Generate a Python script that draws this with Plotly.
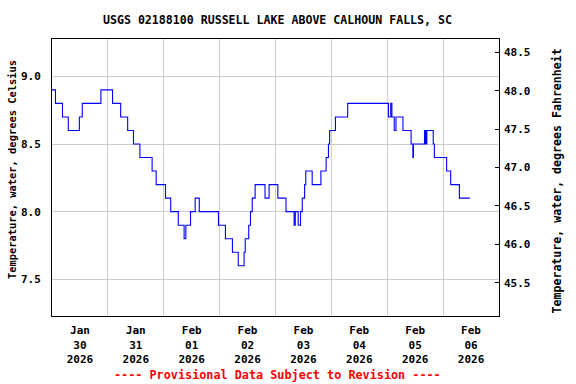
import plotly.graph_objects as go

# Change points of the 15-minute water temperature record (step series)
times = [
    "2026-01-30 00:00", "2026-01-30 01:30", "2026-01-30 04:30", "2026-01-30 07:00",
    "2026-01-30 11:45", "2026-01-30 13:00", "2026-01-30 21:00",
    "2026-01-31 02:00", "2026-01-31 05:30", "2026-01-31 08:30", "2026-01-31 11:00",
    "2026-01-31 13:45", "2026-01-31 19:00", "2026-01-31 20:45",
    "2026-02-01 00:45", "2026-02-01 03:00", "2026-02-01 06:15", "2026-02-01 08:45",
    "2026-02-01 09:30", "2026-02-01 11:30", "2026-02-01 13:30", "2026-02-01 15:15",
    "2026-02-01 23:30",
    "2026-02-02 02:30", "2026-02-02 05:30", "2026-02-02 08:00", "2026-02-02 10:30",
    "2026-02-02 11:00", "2026-02-02 12:30", "2026-02-02 13:15", "2026-02-02 14:00",
    "2026-02-02 15:15", "2026-02-02 19:30", "2026-02-02 21:15",
    "2026-02-03 01:00", "2026-02-03 04:30", "2026-02-03 08:00", "2026-02-03 08:30",
    "2026-02-03 09:45", "2026-02-03 10:45", "2026-02-03 11:30", "2026-02-03 12:30",
    "2026-02-03 13:00", "2026-02-03 15:45", "2026-02-03 19:30", "2026-02-03 21:45",
    "2026-02-03 22:45", "2026-02-03 23:15",
    "2026-02-04 01:45", "2026-02-04 07:00",
    "2026-02-05 00:30", "2026-02-05 01:30", "2026-02-05 02:00", "2026-02-05 03:00",
    "2026-02-05 03:45", "2026-02-05 06:45", "2026-02-05 10:15", "2026-02-05 11:00",
    "2026-02-05 11:15", "2026-02-05 16:00", "2026-02-05 16:15", "2026-02-05 16:30",
    "2026-02-05 16:45", "2026-02-05 17:00", "2026-02-05 19:45", "2026-02-05 20:15",
    "2026-02-06 01:30", "2026-02-06 03:15", "2026-02-06 07:00", "2026-02-06 11:30",
]
temps_c = [
    8.9, 8.8, 8.7, 8.6,
    8.7, 8.8, 8.9,
    8.8, 8.7, 8.6, 8.5,
    8.4, 8.3, 8.2,
    8.1, 8.0, 7.9, 7.8,
    7.9, 8.0, 8.1, 8.0,
    7.9,
    7.8, 7.7, 7.6, 7.7,
    7.8, 7.9, 8.0, 8.1,
    8.2, 8.1, 8.2,
    8.1, 8.0, 7.9, 8.0,
    7.9, 8.0, 8.1, 8.2,
    8.3, 8.2, 8.3, 8.4,
    8.5, 8.6,
    8.7, 8.8,
    8.7, 8.8, 8.7, 8.6,
    8.7, 8.6, 8.5, 8.4,
    8.5, 8.6, 8.5, 8.6,
    8.5, 8.6, 8.5, 8.4,
    8.3, 8.2, 8.1, 8.1,
]

tick_dates = ["2026-01-30 12:00", "2026-01-31 12:00", "2026-02-01 12:00", "2026-02-02 12:00",
              "2026-02-03 12:00", "2026-02-04 12:00", "2026-02-05 12:00", "2026-02-06 12:00"]
tick_labels = ["Jan<br>30<br>2026", "Jan<br>31<br>2026", "Feb<br>01<br>2026", "Feb<br>02<br>2026",
               "Feb<br>03<br>2026", "Feb<br>04<br>2026", "Feb<br>05<br>2026", "Feb<br>06<br>2026"]
day_lines = ["2026-01-31", "2026-02-01", "2026-02-02", "2026-02-03",
             "2026-02-04", "2026-02-05", "2026-02-06"]

c_ticks = [7.5, 8.0, 8.5, 9.0]
c_labels = ["7.5", "8.0", "8.5", "9.0"]
f_ticks = [45.5, 46.0, 46.5, 47.0, 47.5, 48.0, 48.5]
f_labels = ["45.5", "46.0", "46.5", "47.0", "47.5", "48.0", "48.5"]

c_range = [7.229, 9.276]
f_range = [45.066, 48.675]

FONT = "DejaVu Sans Mono"
PL, PR, PT, PB = 52, 499, 39, 316
PW, PH = PR - PL, PB - PT

fig = go.Figure()
fig.add_trace(go.Scatter(
    x=times, y=temps_c, mode="lines", line=dict(color="#0000ff", width=1.1, shape="hv"),
    showlegend=False, hoverinfo="skip",
))
fig.add_trace(go.Scatter(
    x=[times[0]], y=[temps_c[0] * 1.8 + 32], yaxis="y2", mode="markers",
    marker=dict(opacity=0), showlegend=False, hoverinfo="skip",
))

fig.update_layout(
    width=576, height=384,
    margin=dict(l=PL, r=576 - PR, t=PT, b=384 - PB, autoexpand=False),
    paper_bgcolor="white", plot_bgcolor="white",
    font=dict(family=FONT, size=11, color="black", weight="bold"),
    title=dict(text="USGS 02188100 RUSSELL LAKE ABOVE CALHOUN FALLS, SC",
               x=277.5 / 576, xanchor="center", y=1 - 20 / 384, yanchor="middle",
               font=dict(family=FONT, size=11.6, color="black", weight="bold")),
    xaxis=dict(
        type="date", range=["2026-01-30 00:00", "2026-02-07 00:00"],
        tickmode="array", tickvals=tick_dates, ticktext=tick_labels,
        showgrid=False, ticks="", ticklabelstandoff=4, automargin=False,
        showline=True, linecolor="black", linewidth=1, mirror=True,
        minor=dict(tickmode="array", tickvals=day_lines, showgrid=True,
                   gridcolor="#cccccc", gridwidth=1, ticks=""),
        zeroline=False,
    ),
    yaxis=dict(
        range=c_range, tickmode="array", tickvals=c_ticks, ticktext=c_labels,
        showgrid=True, gridcolor="#cccccc", gridwidth=1, ticks="",
        ticklabelstandoff=8, automargin=False,
        showline=True, linecolor="black", linewidth=1, mirror=True, zeroline=False,
    ),
    yaxis2=dict(
        range=f_range, overlaying="y", side="right",
        tickmode="array", tickvals=f_ticks, ticktext=f_labels,
        showgrid=False, ticks="inside", ticklen=4, tickcolor="black",
        ticklabelstandoff=4, zeroline=False, automargin=False,
    ),
    annotations=[
        dict(text="Temperature, water, degrees Celsius", textangle=-90,
             xref="paper", yref="paper", x=(12 - PL) / PW, y=(PB - 170) / PH,
             xanchor="center", yanchor="middle", showarrow=False,
             font=dict(family=FONT, size=10.4, color="black", weight="bold")),
        dict(text="Temperature, water, degrees Fahrenheit", textangle=-90,
             xref="paper", yref="paper", x=(556 - PL) / PW, y=(PB - 181.5) / PH,
             xanchor="center", yanchor="middle", showarrow=False,
             font=dict(family=FONT, size=11.6, color="black", weight="bold")),
        dict(text="---- Provisional Data Subject to Revision ----",
             xref="paper", yref="paper", x=(277.5 - PL) / PW, y=-(375 - PB) / PH,
             xanchor="center", yanchor="middle", showarrow=False,
             font=dict(family=FONT, size=11.8, color="#ff0000", weight="bold")),
    ],
)

fig.write_html("out.html",
               config={"displayModeBar": False, "staticPlot": True},
               post_script="document.body.style.margin='0';document.body.style.overflow='hidden';")
